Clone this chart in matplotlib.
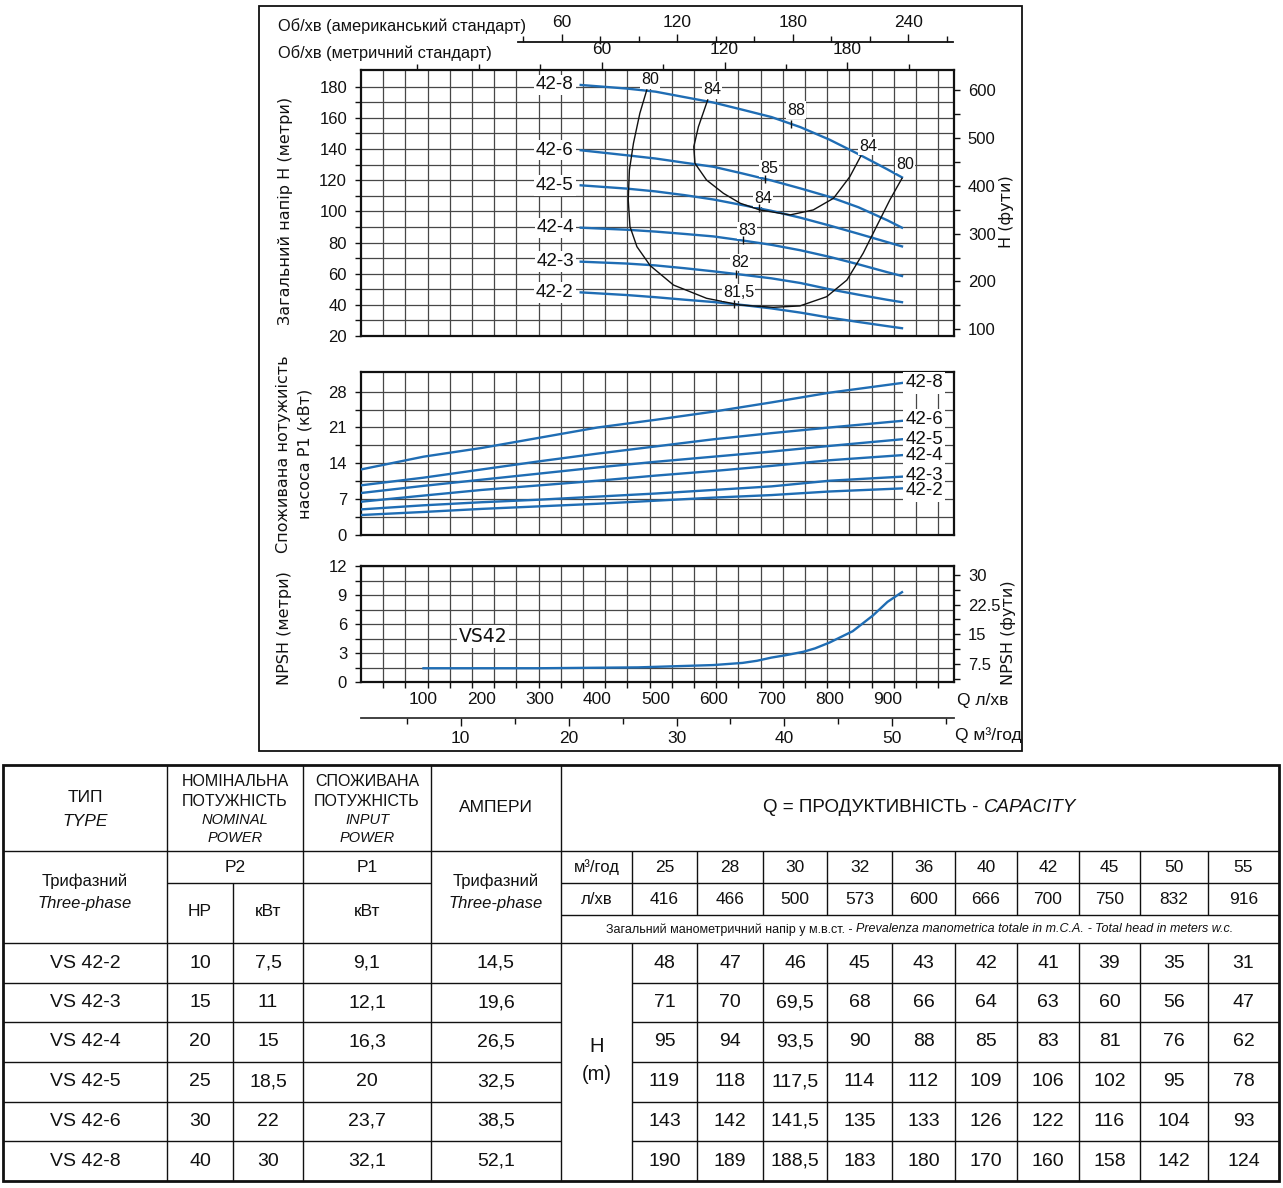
import numpy as np
import matplotlib
matplotlib.use('Agg')
import matplotlib.pyplot as plt
from matplotlib.ticker import FixedLocator, MultipleLocator
from matplotlib.patches import Rectangle

# ------------------------------------------------------------------ data
MODELS = ['42-2', '42-3', '42-4', '42-5', '42-6', '42-8']

# head curves, Q in l/min, H in metres
Q_H = [371, 450, 500, 550, 600, 650, 700, 750, 800, 850, 900, 925]
H_42_2 = [48.0, 46.3, 44.9, 43.3, 41.8, 39.9, 37.7, 35.0, 31.8, 29.0, 26.3, 25.0]
H_42_3 = [67.7, 66.5, 65.3, 63.5, 61.5, 59.3, 57.0, 54.0, 50.0, 46.5, 43.2, 41.7]
H_42_4 = [89.5, 88.2, 87.0, 85.5, 83.9, 81.3, 78.5, 75.0, 70.8, 66.0, 60.9, 58.5]
H_42_5 = [116.7, 114.6, 112.8, 110.4, 107.6, 104.0, 100.3, 95.9, 90.9, 85.6, 80.2, 77.5]
H_42_6 = [139.2, 136.0, 133.9, 131.2, 128.6, 124.3, 119.8, 114.7, 109.3, 102.6, 94.2, 89.5]
H_42_8 = [181.1, 178.8, 176.8, 173.3, 169.8, 165.2, 160.5, 154.0, 146.0, 136.7, 126.9, 121.8]
HEAD = [H_42_2, H_42_3, H_42_4, H_42_5, H_42_6, H_42_8]

# iso-efficiency curves
EFF80_Q = [485, 473, 462, 455, 453, 456, 468, 491, 531, 588, 646, 703, 749, 795, 830, 858, 881, 904, 925]
EFF80_H = [177.9, 162.9, 143.7, 126.5, 107.3, 90.2, 77.3, 65.1, 52.7, 44.2, 39.9, 38.4, 39.3, 45.2,
           55.9, 73.1, 90.2, 107.3, 121.2]
EFF84_Q = [590, 574, 566, 568, 588, 617, 646, 680, 732, 772, 807, 835, 854]
EFF84_H = [171.5, 154.3, 141.5, 130.8, 120.1, 111.6, 105.2, 100.9, 97.7, 100.9, 108.4, 122.2, 135.5]
EFF_TEXT = ['80', '84', '88', '84', '80', '85', '84', '83', '82', '81,5']
EFF_TEXT_Q = [491, 597, 742, 866, 930, 696, 686, 658, 646, 643]
EFF_TEXT_H = [184.3, 177.9, 165.0, 141.9, 130.2, 127.6, 108.4, 87.6, 67.0, 47.8]
EFF_MARK_CURVE = [None, None, '42-8', None, None, '42-6', '42-5', '42-4', '42-3', '42-2']

# input power P1, kW
Q_P = [-8, 100, 200, 300, 400, 500, 600, 700, 800, 925]
P_42_2 = [3.9, 4.5, 5.1, 5.6, 6.1, 6.7, 7.3, 7.8, 8.5, 9.1]
P_42_3 = [5.0, 5.8, 6.4, 6.9, 7.5, 8.1, 8.8, 9.5, 10.6, 11.4]
P_42_4 = [6.5, 7.7, 8.8, 9.7, 10.6, 11.6, 12.5, 13.5, 14.6, 15.6]
P_42_5 = [8.2, 9.6, 10.8, 12.0, 13.2, 14.3, 15.3, 16.3, 17.4, 18.7]
P_42_6 = [9.7, 11.2, 12.8, 14.4, 15.9, 17.3, 18.7, 19.9, 21.0, 22.3]
P_42_8 = [12.8, 15.3, 17.0, 19.0, 21.0, 22.5, 24.1, 25.9, 27.8, 29.7]
POWER = [P_42_2, P_42_3, P_42_4, P_42_5, P_42_6, P_42_8]

# NPSH, m
Q_N = [100, 300, 470, 600, 650, 675, 700, 725, 755, 775, 800, 840, 875, 900, 925]
NPSH = [1.45, 1.45, 1.54, 1.78, 2.0, 2.22, 2.55, 2.8, 3.15, 3.5, 4.1, 5.27, 6.9, 8.3, 9.3]

# axis ticks
RPM_US_TICKS = [60, 120, 180, 240]
RPM_METRIC_TICKS = [60, 120, 180]
Q_LMIN_TICKS = [100, 200, 300, 400, 500, 600, 700, 800, 900]
Q_M3H_TICKS = [10, 20, 30, 40, 50]
H_M_TICKS = [20, 40, 60, 80, 100, 120, 140, 160, 180]
H_FT_TICKS = [100, 200, 300, 400, 500, 600]
P_TICKS = [0, 7, 14, 21, 28]
NPSH_M_TICKS = [0, 3, 6, 9, 12]
NPSH_FT_TICKS = [7.5, 15, 22.5, 30]
NPSH_FT_LABELS = ['7.5', '15', '22.5', '30']

# table
TYPES = ['VS 42-2', 'VS 42-3', 'VS 42-4', 'VS 42-5', 'VS 42-6', 'VS 42-8']
P2_HP = ['10', '15', '20', '25', '30', '40']
P2_KW = ['7,5', '11', '15', '18,5', '22', '30']
P1_KW = ['9,1', '12,1', '16,3', '20', '23,7', '32,1']
AMPS = ['14,5', '19,6', '26,5', '32,5', '38,5', '52,1']
CAP_M3H = ['25', '28', '30', '32', '36', '40', '42', '45', '50', '55']
CAP_LMIN = ['416', '466', '500', '573', '600', '666', '700', '750', '832', '916']
H_TABLE = [
    ['48', '47', '46', '45', '43', '42', '41', '39', '35', '31'],
    ['71', '70', '69,5', '68', '66', '64', '63', '60', '56', '47'],
    ['95', '94', '93,5', '90', '88', '85', '83', '81', '76', '62'],
    ['119', '118', '117,5', '114', '112', '109', '106', '102', '95', '78'],
    ['143', '142', '141,5', '135', '133', '126', '122', '116', '104', '93'],
    ['190', '189', '188,5', '183', '180', '170', '160', '158', '142', '124'],
]

# ------------------------------------------------------------------ style
BLUE = '#1f6db4'
GRID = '#474747'
INK = '#111111'
FONT = ['Liberation Sans', 'DejaVu Sans']
TFONT = ['DejaVu Sans']
plt.rcParams['font.family'] = FONT

W, H = 1283, 1188
fig = plt.figure(figsize=(W / 100, H / 100), dpi=100)
fig.patch.set_facecolor('white')


def frac(x0, y0, x1, y1):
    return [x0 / W, 1 - y1 / H, (x1 - x0) / W, max(y1 - y0, 0.1) / H]


ov = fig.add_axes([0, 0, 1, 1], zorder=0)
ov.set_xlim(0, W)
ov.set_ylim(H, 0)
ov.axis('off')

# horizontal mapping of the chart block (pixels)
PX_Q0, PX_PER_Q = 365.5, 0.58          # l/min scale
AX_L, AX_R = 361, 954
XLIM = ((AX_L - PX_Q0) / PX_PER_Q, (AX_R - PX_Q0) / PX_PER_Q)
GRID_STEP = 22.2 / PX_PER_Q
GRID_Q = [XLIM[0] + k * GRID_STEP for k in range(1, 27)]


def make_chart(y0, y1, ylim, yticks, ygrid):
    ax = fig.add_axes(frac(AX_L, y0, AX_R, y1), zorder=2)
    ax.set_xlim(XLIM)
    ax.set_ylim(ylim)
    ax.set_yticks(yticks)
    ax.set_yticks(ygrid, minor=True)
    ax.set_xticks([])
    ax.set_xticks(GRID_Q, minor=True)
    ax.set_axisbelow(True)
    ax.grid(True, which='both', axis='y', color=GRID, lw=0.9)
    ax.grid(True, which='minor', axis='x', color=GRID, lw=0.9)
    for s in ax.spines.values():
        s.set_linewidth(1.6)
        s.set_color(INK)
    ax.tick_params(axis='y', which='both', direction='out', length=4, width=1,
                   labelsize=12, pad=6, colors=INK)
    ax.tick_params(axis='x', which='both', length=0)
    return ax


def boxed(ax, x, y, s, size, pad, family=None):
    kw = {} if family is None else {'family': family}
    ax.text(x, y, s, ha='center', va='center', fontsize=size, color='white',
            bbox=dict(fc='white', ec='none', pad=pad), zorder=4.5, **kw)
    ax.text(x, y, s, ha='center', va='center', fontsize=size, color=INK, zorder=6, **kw)


# ---------------- head chart
ax1 = make_chart(70, 336, (20, 190.7), H_M_TICKS, np.arange(30, 181, 20))
for name, h in zip(MODELS, HEAD):
    ax1.plot(Q_H, h, color=BLUE, lw=1.7, zorder=3)
    boxed(ax1, (555 - PX_Q0) / PX_PER_Q, h[0], name, 13.5, 1.2)
ax1.plot(EFF80_Q, EFF80_H, color=INK, lw=1.0, zorder=4)
ax1.plot(EFF84_Q, EFF84_H, color=INK, lw=1.0, zorder=4)
for t, q, h, c in zip(EFF_TEXT, EFF_TEXT_Q, EFF_TEXT_H, EFF_MARK_CURVE):
    boxed(ax1, q, h, t, 11.5, 0.8)
    if c is not None:
        hv = np.interp(q - 8, Q_H, HEAD[MODELS.index(c)])
        ax1.plot([q - 8], [hv], marker='|', ms=6, mew=1.0, color=INK, zorder=6)

ax1r = ax1.twinx()
ax1r.set_ylim(86, 641.8)
ax1r.set_yticks(H_FT_TICKS)
ax1r.yaxis.set_minor_locator(MultipleLocator(50))
ax1r.tick_params(axis='y', which='both', direction='out', length=4, width=1,
                 labelsize=12, pad=6, colors=INK)
for s in ax1r.spines.values():
    s.set_visible(False)

# metric rpm scale on top spine
M_PX0, M_PPR = 478.9, 2.047


def q2rpm(q):
    return (PX_Q0 + PX_PER_Q * np.asarray(q) - M_PX0) / M_PPR


def rpm2q(r):
    return (M_PX0 + M_PPR * np.asarray(r) - PX_Q0) / PX_PER_Q


sec = ax1.secondary_xaxis('top', functions=(q2rpm, rpm2q))
sec.set_xticks(RPM_METRIC_TICKS)
sec.xaxis.set_minor_locator(FixedLocator([-30, 0, 30, 90, 150, 210]))
sec.tick_params(which='major', direction='out', length=6, width=1, labelsize=12.5, pad=3, colors=INK)
sec.tick_params(which='minor', direction='out', length=4, width=1, colors=INK)
sec.spines['top'].set_visible(False)

# US rpm scale
US_PX0, US_PPR = 446.2, 1.9256
axu = fig.add_axes(frac(518.3, 41.7, 953.3, 41.7), zorder=2)
axu.set_xlim((518.3 - US_PX0) / US_PPR, (953.3 - US_PX0) / US_PPR)
axu.patch.set_visible(False)
for k in ['left', 'right', 'bottom']:
    axu.spines[k].set_visible(False)
axu.spines['top'].set_linewidth(1.3)
axu.spines['top'].set_color(INK)
axu.set_yticks([])
axu.xaxis.tick_top()
axu.set_xticks(RPM_US_TICKS)
axu.xaxis.set_minor_locator(MultipleLocator(20))
axu.tick_params(axis='x', which='major', direction='out', length=6, width=1, labelsize=12.5, pad=2, colors=INK)
axu.tick_params(axis='x', which='minor', direction='out', length=4, width=1, colors=INK)

# ---------------- power chart
ax2 = make_chart(371.7, 535, (0, 31.9), P_TICKS, [3.5, 10.5, 17.5, 24.5])
nudge = {'42-2': -0.5, '42-3': 0.3, '42-6': 0.3}
for name, p in zip(MODELS, POWER):
    ax2.plot(Q_P, p, color=BLUE, lw=1.7, zorder=3)
    boxed(ax2, (924 - PX_Q0) / PX_PER_Q, p[-1] + nudge.get(name, 0), name, 13.5, 1.6)

# ---------------- NPSH chart
ax3 = make_chart(566, 682.3, (0, 12), NPSH_M_TICKS, [1.5, 4.5, 7.5, 10.5])
ax3.plot(Q_N, NPSH, color=BLUE, lw=1.7, zorder=3)
boxed(ax3, (483 - PX_Q0) / PX_PER_Q, 4.7, 'VS42', 13.5, 1.5, TFONT)
ax3.set_xticks(Q_LMIN_TICKS)
ax3.tick_params(axis='x', which='major', length=0, labelsize=12.5, pad=7, colors=INK)
ax3.tick_params(axis='x', which='minor', direction='out', length=4, width=1, colors=INK)

ax3r = ax3.twinx()
ax3r.set_ylim(2.87, 32.27)
ax3r.set_yticks(NPSH_FT_TICKS, labels=NPSH_FT_LABELS)
ax3r.set_yticks([3.75, 11.25, 18.75, 26.25], minor=True)
ax3r.tick_params(axis='y', which='both', direction='out', length=4, width=1,
                 labelsize=12, pad=6, colors=INK)
for s in ax3r.spines.values():
    s.set_visible(False)

# m3/h scale
Q3_PX0, Q3_PPU = 352.8, 10.79
axm = fig.add_axes(frac(AX_L, 718.3, AX_R, 718.3), zorder=2)
axm.set_xlim((AX_L - Q3_PX0) / Q3_PPU, (AX_R - Q3_PX0) / Q3_PPU)
axm.patch.set_visible(False)
for k in ['left', 'right', 'top']:
    axm.spines[k].set_visible(False)
axm.spines['bottom'].set_linewidth(1.3)
axm.spines['bottom'].set_color('#333333')
axm.set_yticks([])
axm.set_xticks(Q_M3H_TICKS)
axm.xaxis.set_minor_locator(MultipleLocator(5))
axm.tick_params(axis='x', which='major', direction='out', length=6, width=1, labelsize=12.5, pad=3, colors=INK)
axm.tick_params(axis='x', which='minor', direction='out', length=4, width=1, colors=INK)

# ---------------- chart annotations (overlay, pixel coordinates)
ov.add_patch(Rectangle((258.5, 6), 1021.5 - 258.5, 751 - 6, fill=False, lw=1.3, ec=INK))
ov.text(277.5, 26.5, 'Об/хв (американський стандарт)', ha='left', va='center', fontsize=11.8, color=INK)
ov.text(277.5, 53.5, 'Об/хв (метричний стандарт)', ha='left', va='center', fontsize=11.8, color=INK)
ov.text(285, 211, 'Загальний напір H (метри)', rotation=90, ha='center', va='center',
        fontsize=11.5, family=TFONT, color=INK)
ov.text(283.5, 454, 'Споживана нотужиість', rotation=90, ha='center', va='center',
        fontsize=11.5, family=TFONT, color=INK)
ov.text(305.5, 454, 'насоса P1 (кВт)', rotation=90, ha='center', va='center',
        fontsize=11.5, family=TFONT, color=INK)
ov.text(284, 628, 'NPSH (метри)', rotation=90, ha='center', va='center',
        fontsize=11.5, family=TFONT, color=INK)
ov.text(1007, 212, 'H (фути)', rotation=90, ha='center', va='center',
        fontsize=11.5, family=TFONT, color=INK)
ov.text(1008, 633, 'NPSH (фути)', rotation=90, ha='center', va='center',
        fontsize=11.5, family=TFONT, color=INK)
ov.text(957, 700, 'Q л/хв', ha='left', va='center', fontsize=12.5, color=INK)
ov.text(955, 735, 'Q м³/год', ha='left', va='center', fontsize=12.5, color=INK)

# ---------------- table
TX0, TX1 = 3, 1279
C_TYPE, C_HP, C_P1, C_AMP, C_Q, C_V = 167, 233, 303, 431, 561, 632
VAL_X = [632, 697, 763, 827, 892, 955, 1017, 1079, 1140, 1208, 1279]
Y_TOP, Y_HDR, Y_SUB, Y_SUB2, Y_NOTE = 765, 851, 883, 915, 943
ROW_Y = [943, 983, 1022, 1062, 1102, 1141, 1181]
LW = 1.0


def hl(y, x0, x1, lw=LW):
    ov.plot([x0, x1], [y, y], color=INK, lw=lw, solid_capstyle='butt')


def vl(x, y0, y1, lw=LW):
    ov.plot([x, x], [y0, y1], color=INK, lw=lw, solid_capstyle='butt')


ov.add_patch(Rectangle((TX0, Y_TOP), TX1 - TX0, ROW_Y[-1] - Y_TOP, fill=False, lw=2.0, ec=INK))
hl(Y_HDR, TX0, TX1)
hl(Y_SUB, C_TYPE, C_AMP)
hl(Y_SUB, C_Q, TX1)
hl(Y_SUB2, C_Q, TX1)
hl(Y_NOTE, TX0, TX1)
for y in ROW_Y[1:-1]:
    hl(y, TX0, C_Q)
    hl(y, C_V, TX1)
for x in [C_TYPE, C_P1, C_AMP, C_Q]:
    vl(x, Y_TOP, ROW_Y[-1])
vl(C_HP, Y_SUB, ROW_Y[-1])
for x in VAL_X[:-1]:
    vl(x, Y_HDR, Y_SUB2)
    vl(x, Y_NOTE, ROW_Y[-1])


def txt(x, y, s, size=12, style='normal'):
    ov.text(x, y, s, ha='center', va='center', fontsize=size, style=style, color=INK)


renderer = fig.canvas.get_renderer()


def mixed(xc, y, parts, size):
    probe = ov.text(0, 0, 'x x', fontsize=size)
    probe2 = ov.text(0, 0, 'xx', fontsize=size)
    sp = probe.get_window_extent(renderer).width - probe2.get_window_extent(renderer).width
    probe.remove()
    probe2.remove()
    objs, widths = [], []
    for s, st in parts:
        t = ov.text(0, y, s, ha='left', va='center', fontsize=size, style=st, color=INK)
        objs.append(t)
        widths.append(t.get_window_extent(renderer).width)
    total = sum(widths) + sp * (len(parts) - 1)
    x = xc - total / 2
    for t, w in zip(objs, widths):
        t.set_x(x)
        x += w + sp


xc0 = (TX0 + C_TYPE) / 2
xp2 = (C_TYPE + C_P1) / 2
xp1 = (C_P1 + C_AMP) / 2
xam = (C_AMP + C_Q) / 2
xql = (C_Q + C_V) / 2
xhp = (C_TYPE + C_HP) / 2
xkw = (C_HP + C_P1) / 2

txt(xc0, 797, 'ТИП', 12.5)
txt(xc0, 821, 'TYPE', 12.5, 'italic')
txt(xp2, 782, 'НОМІНАЛЬНА', 11.5)
txt(xp2, 801.5, 'ПОТУЖНІСТЬ', 11.5)
txt(xp2, 820, 'NOMINAL', 10.5, 'italic')
txt(xp2, 838.5, 'POWER', 10.5, 'italic')
txt(xp1, 782, 'СПОЖИВАНА', 11.5)
txt(xp1, 801.5, 'ПОТУЖНІСТЬ', 11.5)
txt(xp1, 820, 'INPUT', 10.5, 'italic')
txt(xp1, 838.5, 'POWER', 10.5, 'italic')
txt(xam, 808, 'АМПЕРИ', 12.5)
mixed((C_Q + TX1) / 2, 808, [('Q = ПРОДУКТИВНІСТЬ -', 'normal'), ('CAPACITY', 'italic')], 13.5)

txt(xc0, 881.5, 'Трифазний', 12)
txt(xc0, 903.5, 'Three-phase', 12, 'italic')
txt(xp2, 867, 'P2', 12.5)
txt(xhp, 911.5, 'HP', 12.5)
txt(xkw, 911.5, 'кВт', 12.5)
txt(xp1, 867, 'P1', 12.5)
txt(xp1, 911.5, 'кВт', 12.5)
txt(xam, 881.5, 'Трифазний', 12)
txt(xam, 903.5, 'Three-phase', 12, 'italic')
txt(xql, 867.5, 'м³/год', 12)
txt(xql, 899.5, 'л/хв', 12)
for i in range(10):
    xv = (VAL_X[i] + VAL_X[i + 1]) / 2
    txt(xv, 867.5, CAP_M3H[i], 12.5)
    txt(xv, 899.5, CAP_LMIN[i], 12.5)
mixed((C_Q + TX1) / 2, 929.5,
      [('Загальний манометричний напір у м.в.ст. -', 'normal'),
       ('Prevalenza manometrica totale in m.C.A.', 'italic'),
       ('-', 'normal'),
       ('Total head in meters w.c.', 'italic')], 9)

for r in range(6):
    yc = (ROW_Y[r] + ROW_Y[r + 1]) / 2
    txt(xc0, yc, TYPES[r], 14)
    txt(xhp, yc, P2_HP[r], 14)
    txt(xkw, yc, P2_KW[r], 14)
    txt(xp1, yc, P1_KW[r], 14)
    txt(xam, yc, AMPS[r], 14)
    for i in range(10):
        xv = (VAL_X[i] + VAL_X[i + 1]) / 2
        txt(xv, yc, H_TABLE[r][i], 14)
txt(xql, 1047, 'H', 14.5)
txt(xql, 1075, '(m)', 14.5)

fig.savefig('out.png', dpi=100, facecolor='white')
